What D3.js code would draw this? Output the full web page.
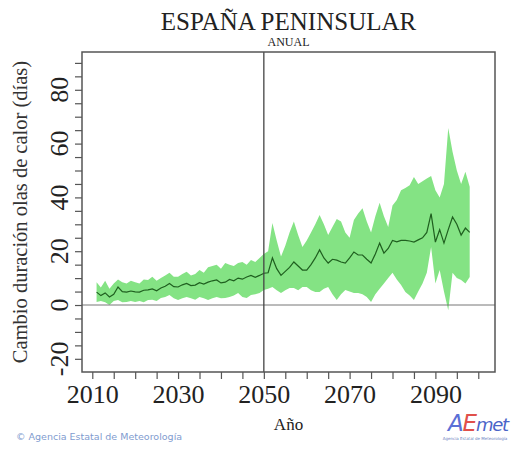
<!DOCTYPE html>
<html>
<head>
<meta charset="utf-8">
<script src="https://cdn.jsdelivr.net/npm/d3@7"></script>
<style>
  body { margin: 0; background: #fff; }
  svg { display: block; }
</style>
</head>
<body>
<div id="viz"></div>
<script>
// ---- data ----
var YEARS = d3.range(2011, 2099);
var MEAN = [4.8,3.5,4.5,3.0,4.0,6.7,5.0,4.8,5.2,4.9,
  4.8,5.5,5.6,6.0,5.3,6.3,7.0,8.0,6.8,6.7,
  7.5,8.0,7.2,7.4,8.3,7.8,8.5,9.0,9.3,8.2,
  8.5,9.5,9.0,10.0,9.6,10.4,11.0,10.3,11.0,11.8,
  12.0,17.5,13.5,11.0,12.5,14.0,16.0,14.5,13.0,13.0,
  15.0,17.5,20.5,17.5,15.6,17.0,16.7,16.0,15.6,17.5,
  19.7,18.6,18.6,17.0,15.6,19.0,23.0,19.3,21.0,24.0,
  23.5,24.0,24.0,23.8,23.4,24.2,25.0,27.0,34.0,23.4,
  28.0,23.0,28.0,32.7,30.0,26.0,28.6,27.0];
var UPPER = [8.5,6.5,9.0,6.0,8.0,9.5,8.5,8.0,9.0,8.5,
  8.0,9.5,9.3,10.5,9.0,10.0,11.0,12.0,10.5,10.5,
  11.5,12.4,11.0,11.5,13.0,12.0,14.0,14.5,15.0,13.5,
  15.6,15.0,14.5,15.6,16.0,15.0,16.7,16.0,17.5,19.0,
  20.0,30.5,24.0,18.0,22.0,27.0,31.0,26.0,21.6,24.0,
  27.0,30.0,33.5,30.0,26.0,29.0,32.0,31.0,27.0,25.0,
  31.6,34.0,36.0,31.0,27.0,33.0,38.0,33.0,29.0,37.0,
  39.0,42.7,43.5,44.5,47.6,45.0,46.0,47.0,48.0,42.7,
  40.0,45.0,65.8,57.0,50.0,45.0,49.5,44.0];
var LOWER = [1.1,1.5,1.0,0.0,1.5,1.9,1.0,1.1,1.5,1.1,
  1.5,1.0,1.9,2.0,1.5,2.6,3.0,3.7,2.5,1.9,
  2.5,3.0,2.5,2.0,3.0,2.5,1.9,2.5,3.0,2.5,
  2.6,3.0,3.5,4.5,3.0,2.6,3.7,4.0,4.5,5.6,
  6.0,6.7,5.5,4.5,5.5,6.3,6.3,5.5,6.7,6.7,
  5.5,4.8,4.8,6.0,6.7,4.0,1.9,4.0,5.6,5.0,
  4.5,4.5,4.0,3.0,1.1,4.0,6.0,8.0,10.0,12.0,
  9.5,7.4,4.8,3.5,1.9,5.0,8.0,12.0,21.6,8.0,
  13.0,5.0,-1.9,12.0,10.0,9.3,8.0,10.4];
var X_TICKS = d3.range(2010, 2101, 5);
var X_LABELS = [2010, 2030, 2050, 2070, 2090];
var Y_TICKS = d3.range(-20, 91, 5);
var Y_LABELS = [-20, 0, 20, 40, 60, 80];

var TITLE = "ESPAÑA PENINSULAR";
var SUBTITLE = "ANUAL";
var Y_TITLE = "Cambio duración olas de calor (días)";
var X_TITLE = "Año";

// ---- layout ----
var SVG_WIDTH = 513, SVG_HEIGHT = 451;
var BOX = { left: 82, right: 495, top: 52, bottom: 372 };
var SERIF = "'Liberation Serif', 'Times New Roman', serif";
var SANS = "'DejaVu Sans', sans-serif";

var data = YEARS.map(function(y, i){
  return { year: y, mean: MEAN[i], hi: UPPER[i], lo: LOWER[i] };
});

var svg = d3.select("#viz")
  .append("svg")
  .attr("width", SVG_WIDTH)
  .attr("height", SVG_HEIGHT);

var x = d3.scaleLinear().domain([2007.6, 2103.9]).range([BOX.left, BOX.right]);
var y = d3.scaleLinear().domain([-24.9, 94.05]).range([BOX.bottom, BOX.top]);

// band
svg.append("path")
  .datum(data)
  .attr("fill", "#84e384")
  .attr("d", d3.area()
    .x(function(d){ return x(d.year); })
    .y0(function(d){ return y(d.lo); })
    .y1(function(d){ return y(d.hi); }));

// mean line
svg.append("path")
  .datum(data)
  .attr("fill", "none")
  .attr("stroke", "#1f5f1f")
  .attr("stroke-width", 1.2)
  .attr("d", d3.line()
    .x(function(d){ return x(d.year); })
    .y(function(d){ return y(d.mean); }));

// zero line and 2050 marker
svg.append("line")
  .attr("x1", BOX.left).attr("x2", BOX.right)
  .attr("y1", y(0)).attr("y2", y(0))
  .attr("stroke", "#777").attr("stroke-width", 1);
svg.append("line")
  .attr("x1", x(2050)).attr("x2", x(2050))
  .attr("y1", BOX.top).attr("y2", BOX.bottom)
  .attr("stroke", "#444").attr("stroke-width", 1.3);

// frame
svg.append("rect")
  .attr("x", BOX.left).attr("y", BOX.top)
  .attr("width", BOX.right - BOX.left).attr("height", BOX.bottom - BOX.top)
  .attr("fill", "none").attr("stroke", "#555").attr("stroke-width", 1.5);

// x axis
var xAxis = svg.append("g")
  .attr("transform", "translate(0," + BOX.bottom + ")")
  .call(d3.axisBottom(x).tickValues(X_TICKS).tickSize(7).tickPadding(6)
    .tickFormat(function(d){ return X_LABELS.indexOf(d) >= 0 ? d : ""; }));
xAxis.select(".domain").remove();
xAxis.selectAll("line").attr("stroke", "#555").attr("stroke-width", 1.2);
xAxis.selectAll("text")
  .attr("font-family", SERIF).attr("font-size", 26).attr("fill", "#222");

// y axis
var yAxis = svg.append("g")
  .attr("transform", "translate(" + BOX.left + ",0)")
  .call(d3.axisLeft(y).tickValues(Y_TICKS).tickSize(7).tickFormat(""));
yAxis.select(".domain").remove();
yAxis.selectAll("line").attr("stroke", "#555").attr("stroke-width", 1.2);

svg.append("g").selectAll("text")
  .data(Y_LABELS)
  .enter()
  .append("text")
  .attr("transform", function(d){ return "translate(59," + y(d) + ") rotate(-90)"; })
  .attr("text-anchor", "middle")
  .attr("dy", "0.35em")
  .attr("font-family", SERIF).attr("font-size", 26).attr("fill", "#222")
  .text(function(d){ return d; });

// titles
var cx = (BOX.left + BOX.right) / 2;
svg.append("text")
  .attr("x", cx).attr("y", 30)
  .attr("text-anchor", "middle")
  .attr("font-family", SERIF).attr("font-size", 25).attr("fill", "#222")
  .text(TITLE);
svg.append("text")
  .attr("x", cx).attr("y", 46)
  .attr("text-anchor", "middle")
  .attr("font-family", SERIF).attr("font-size", 12).attr("fill", "#222")
  .text(SUBTITLE);
svg.append("text")
  .attr("transform", "translate(27," + ((BOX.top + BOX.bottom) / 2) + ") rotate(-90)")
  .attr("text-anchor", "middle")
  .attr("font-family", SERIF).attr("font-size", 20.5).attr("fill", "#333")
  .text(Y_TITLE);
svg.append("text")
  .attr("x", cx).attr("y", 430)
  .attr("text-anchor", "middle")
  .attr("font-family", SERIF).attr("font-size", 17).attr("fill", "#222")
  .text(X_TITLE);

// footer credit
svg.append("text")
  .attr("x", 16).attr("y", 440)
  .attr("font-family", SANS).attr("font-size", 9.5)
  .attr("fill", "#7f9ccf")
  .text("© Agencia Estatal de Meteorología");

// AEMET logo, roughly
var logo = svg.append("text")
  .attr("x", 448).attr("y", 431)
  .attr("font-family", SANS).attr("font-style", "italic")
  .attr("font-size", 23).attr("letter-spacing", -1.2);
logo.append("tspan").attr("fill", "#5b6fd6").text("A");
logo.append("tspan").attr("fill", "#e0504a").text("E");
logo.append("tspan").attr("fill", "#4a64c8").attr("font-size", 18).text("met");
svg.append("text")
  .attr("x", 475).attr("y", 440)
  .attr("text-anchor", "middle")
  .attr("font-family", SANS).attr("font-size", 4)
  .attr("fill", "#6b7fc0")
  .text("Agencia Estatal de Meteorología");
</script>
</body>
</html>
